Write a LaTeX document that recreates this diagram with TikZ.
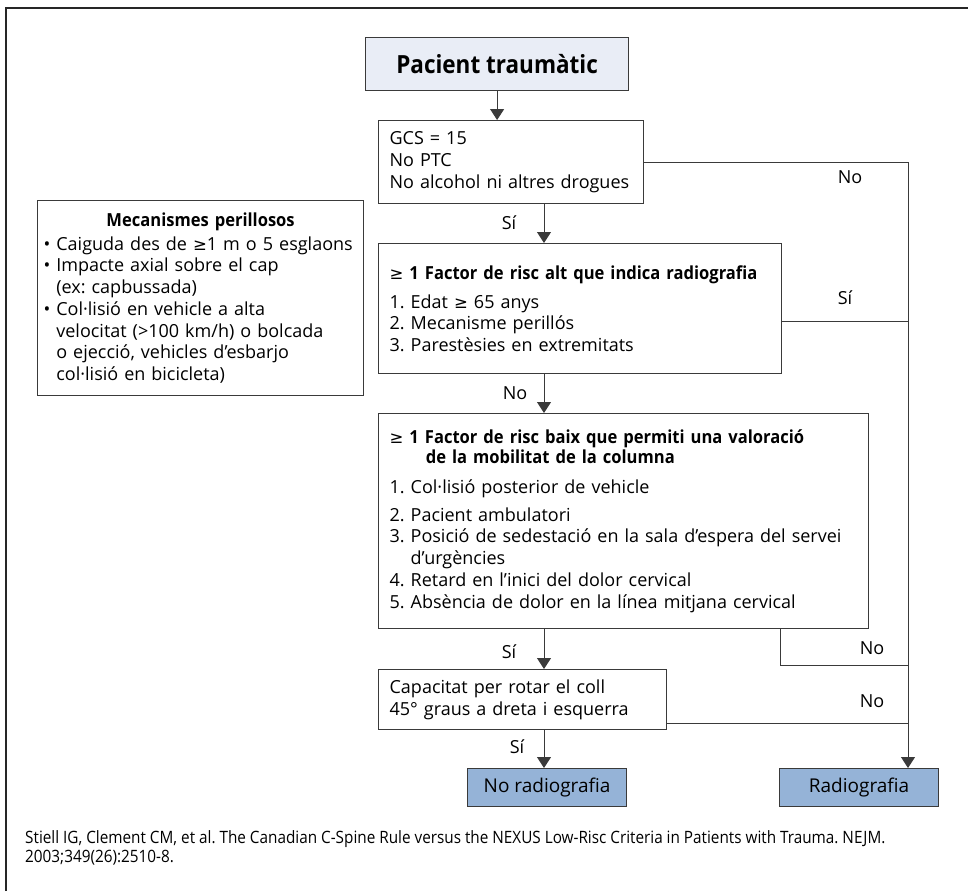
\documentclass[tikz,border=0pt]{standalone}
\usepackage{fontspec}
\setmainfont{Open Sans}[BoldFeatures={FakeStretch=0.92}]
\newfontfamily\estreta[FakeStretch=0.9]{Open Sans}
\newfontfamily\simbols[Scale=0.92]{DejaVu Sans}
\newcommand\mg{{\simbols ≥}}
\usepackage{tikz}
\usetikzlibrary{arrows.meta}

\definecolor{vora}{HTML}{3A3A3A}
\definecolor{blaupal}{HTML}{E9EDF6}
\definecolor{blauresultat}{HTML}{95B3D7}

\begin{document}
\hyphenpenalty=10000
\exhyphenpenalty=10000
\frenchspacing
\begin{tikzpicture}[x=1pt, y=-1pt,
          % Caixes de decisio
          caixa/.style={
              draw=vora,
              rectangle,
              anchor=north west,
              line width=1.2pt,
              inner xsep=11pt,
              inner ysep=4pt,
              align=left,
              font=\fontsize{18}{21.7}\selectfont
          },
          % Caixes finals (resultat)
          resultat/.style={
              draw=vora,
              rectangle,
              anchor=north west,
              fill=blauresultat,
              line width=1.2pt,
              minimum width=159pt,
              minimum height=38pt,
              font=\fontsize{19}{21}\selectfont
          },
          % Fletxes i linies
          fletxa/.style={
              -{Triangle[length=11pt, width=14pt]},
              draw=vora,
              line width=1pt
          },
          linia/.style={draw=vora, line width=1pt},
          etiqueta/.style={font=\fontsize{18}{20}\selectfont}
      ]
          \useasboundingbox (0,0) rectangle (968,891);

          % Marc exterior
          \draw [line width=2.5pt, draw=black!85] (6,891) -- (6,8) -- (968,8);

          % 1. Inici
          \node [caixa, fill=blaupal, align=center, minimum width=263pt, minimum height=53pt,
                 font=\estreta\bfseries\fontsize{25}{28}\selectfont] (pacient) at (365,37) {Pacient traumàtic};

          % 2. Primer criteri
          \node [caixa, text width=243pt, minimum height=83pt] (gcs) at (378,120)
              {GCS = 15\\No PTC\\No alcohol ni altres drogues};
          \draw [fletxa] (pacient.south) -- (pacient.south |- gcs.north);

          % 3. Factors de risc alt
          \node [caixa, text width=381pt, minimum height=130pt] (alt) at (378,243)
              {\mg{} \textbf{1 Factor de risc alt que indica radiografia}\\[7pt]
               1. Edat \mg{} 65 anys\\
               2. Mecanisme perillós\\
               3. Parestèsies en extremitats};
          \draw [fletxa] (544,203) coordinate (x1) -- (x1 |- alt.north);

          % 4. Factors de risc baix
          \node [caixa, text width=468pt, minimum height=215pt] (baix) at (378,413)
              {\mg{} \textbf{1 Factor de risc baix que permiti una valoració}\\[-1.5pt]
               \phantom{\mg{} 1 }\textbf{de la mobilitat de la columna}\\[8pt]
               1. Col·lisió posterior de vehicle\\[6pt]
               2. Pacient ambulatori\\
               3. Posició de sedestació en la sala d’espera del servei\\
               \phantom{3. }d’urgències\\
               4. Retard en l’inici del dolor cervical\\
               5. Absència de dolor en la línea mitjana cervical\\[4pt]};
          \draw [fletxa] (x1 |- alt.south) -- (x1 |- baix.north);

          % 5. Rotacio del coll
          \node [caixa, text width=266pt, minimum height=60pt] (coll) at (378,669)
              {Capacitat per rotar el coll\\45° graus a dreta i esquerra};
          \draw [fletxa] (x1 |- baix.south) -- (x1 |- coll.north);

          % 6. Resultats
          \node [resultat] (noradio) at (467,768) {No radiografia};
          \node [resultat] (radio) at (779,768) {Radiografia};
          \draw [fletxa] (x1 |- coll.south) -- (x1 |- noradio.north);

          % 7. Tronc de la dreta cap a radiografia
          \coordinate (tronc) at (908,0);
          \coordinate (nus) at (908,665);
          \draw [fletxa] (gcs.east) -| (tronc |- radio.north);
          \draw [linia] ([yshift=-13pt]alt.east) -- ([yshift=-13pt]alt.east -| tronc);
          \draw [linia] ([xshift=-89pt]baix.south east) |- (nus);
          \draw [linia] ([yshift=7pt]coll.south east) -- ([yshift=7pt]coll.south east -| tronc);

          % Etiquetes
          \node [etiqueta] (l1) at (850,177) {No};
          \node [etiqueta] (l2) at (509,223) {Sí};
          \node [etiqueta] (l3) at (845,298) {Sí};
          \node [etiqueta] (l4) at (515,393) {No};
          \node [etiqueta] (l5) at (509,652) {Sí};
          \node [etiqueta] (l6) at (872,648) {No};
          \node [etiqueta] (l7) at (872,701) {No};
          \node [etiqueta] (l8) at (517,747) {Sí};

          % 8. Mecanismes perillosos
          \node [caixa, text width=314pt, inner xsep=6pt, minimum height=195pt] (mecanismes) at (37,200)
              {\makebox[\linewidth][c]{\textbf{Mecanismes perillosos}}\\[2pt]
               • Caiguda des de \mg1 m o 5 esglaons\\
               • Impacte axial sobre el cap\\
               \phantom{• }(ex: capbussada)\\
               • Col·lisió en vehicle a alta\\
               \phantom{• }velocitat (>100 km/h) o bolcada\\
               \phantom{• }o ejecció, vehicles d’esbarjo\\
               \phantom{• }col·lisió en bicicleta)};

          % 9. Referencia
          \node [anchor=north west, align=left, inner sep=0pt,
                 font=\estreta\fontsize{17}{19.5}\selectfont] (referencia) at (25,830)
              {Stiell IG, Clement CM, et al. The Canadian C-Spine Rule versus the NEXUS Low-Risc Criteria in Patients with Trauma. NEJM.\\
               2003;349(26):2510-8.};
      \end{tikzpicture}
\end{document}
